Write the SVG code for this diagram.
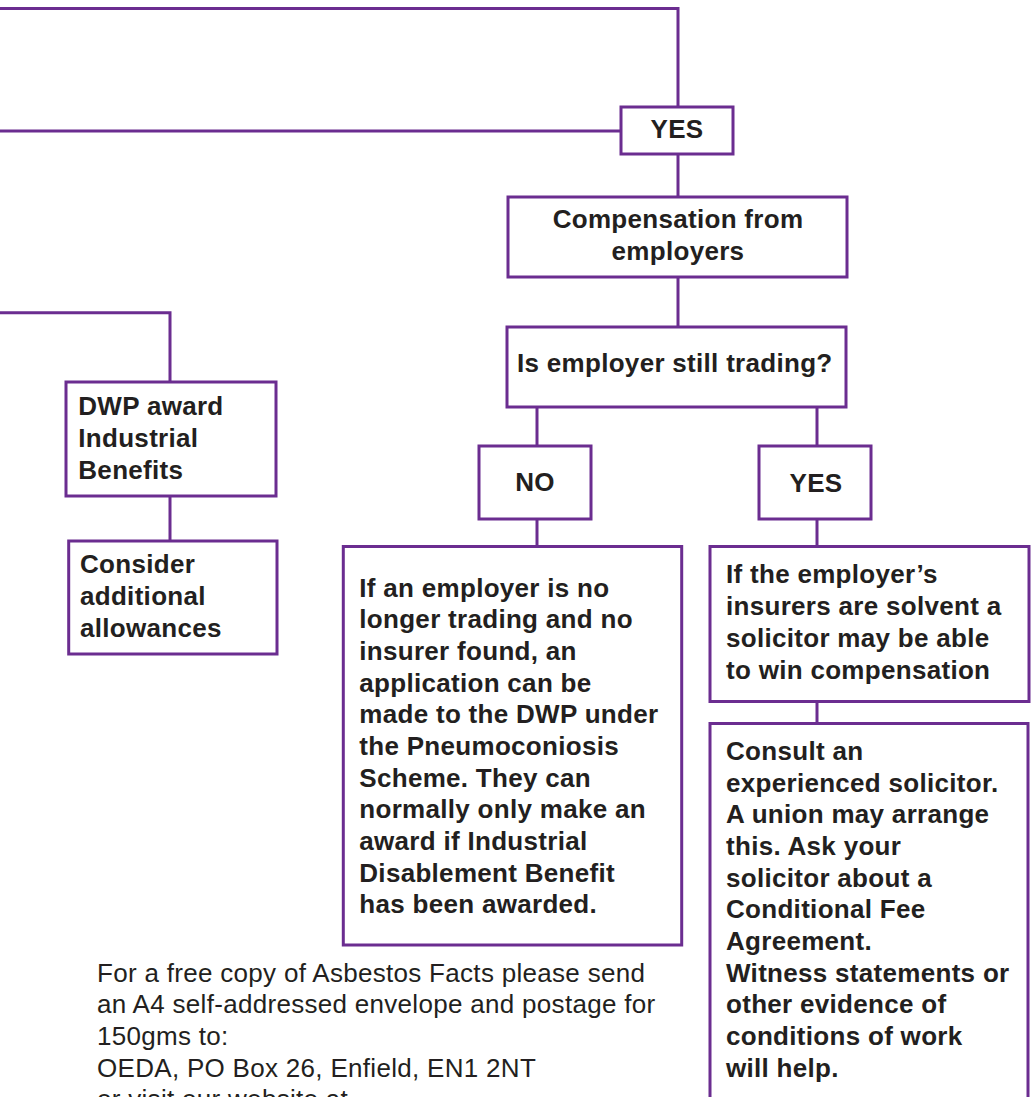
<svg xmlns="http://www.w3.org/2000/svg" width="1033" height="1097" viewBox="0 0 1033 1097">
<style>
.box{fill:#ffffff;stroke:#6b2d90;stroke-width:3}
.ln{fill:none;stroke:#6b2d90;stroke-width:3}
.t{font-family:"Liberation Sans",Arial,Helvetica,sans-serif;font-size:26px;font-weight:bold;fill:#231f20;letter-spacing:0.3px}
.c{text-anchor:middle}
.r{font-weight:normal}
</style>
<rect width="1033" height="1097" fill="#ffffff"/>
<g id="connectors">
<path class="ln" d="M0,8.5 H678 V107"/>
<path class="ln" d="M0,131 H621"/>
<path class="ln" d="M678,154 V197"/>
<path class="ln" d="M678,277 V327"/>
<path class="ln" d="M537,407 V446"/>
<path class="ln" d="M817,407 V446"/>
<path class="ln" d="M537,519 V546.5"/>
<path class="ln" d="M817,519 V546.5"/>
<path class="ln" d="M817,701.5 V723.5"/>
<path class="ln" d="M0,312.7 H170 V382"/>
<path class="ln" d="M170,496 V541"/>
</g>
<g id="yes1">
<rect class="box" x="621" y="107" width="112" height="47"/>
<text class="t c" x="677" y="138">YES</text>
</g>
<g id="compensation">
<rect class="box" x="508" y="197" width="339" height="80"/>
<text class="t c" x="678" y="228">Compensation from</text>
<text class="t c" x="678" y="260">employers</text>
</g>
<g id="trading">
<rect class="box" x="507" y="327" width="339" height="80"/>
<text class="t" x="517" y="372">Is employer still trading?</text>
</g>
<g id="no">
<rect class="box" x="479" y="446" width="112" height="73"/>
<text class="t c" x="535" y="491">NO</text>
</g>
<g id="yes2">
<rect class="box" x="759" y="446" width="112" height="73"/>
<text class="t c" x="816" y="491.5">YES</text>
</g>
<g id="no-result">
<rect class="box" x="343.3" y="546.5" width="338.4" height="398.5"/>
<text class="t" x="359.3" y="596.7">If an employer is no</text>
<text class="t" x="359.3" y="628.3">longer trading and no</text>
<text class="t" x="359.3" y="660">insurer found, an</text>
<text class="t" x="359.3" y="691.7">application can be</text>
<text class="t" x="359.3" y="723.3">made to the DWP under</text>
<text class="t" x="359.3" y="755">the Pneumoconiosis</text>
<text class="t" x="359.3" y="786.7">Scheme. They can</text>
<text class="t" x="359.3" y="818.3">normally only make an</text>
<text class="t" x="359.3" y="850">award if Industrial</text>
<text class="t" x="359.3" y="881.7">Disablement Benefit</text>
<text class="t" x="359.3" y="913.3">has been awarded.</text>
</g>
<g id="yes-result">
<rect class="box" x="710" y="546.5" width="319" height="155"/>
<text class="t" x="726" y="582.7">If the employer’s</text>
<text class="t" x="726" y="615">insurers are solvent a</text>
<text class="t" x="726" y="646.7">solicitor may be able</text>
<text class="t" x="726" y="679.3">to win compensation</text>
</g>
<g id="advice">
<rect class="box" x="710" y="723.5" width="318" height="420"/>
<text class="t" x="726" y="760">Consult an</text>
<text class="t" x="726" y="791.7">experienced solicitor.</text>
<text class="t" x="726" y="823.3">A union may arrange</text>
<text class="t" x="726" y="855">this. Ask your</text>
<text class="t" x="726" y="886.7">solicitor about a</text>
<text class="t" x="726" y="918.3">Conditional Fee</text>
<text class="t" x="726" y="950">Agreement.</text>
<text class="t" x="726" y="981.7">Witness statements or</text>
<text class="t" x="726" y="1013.3">other evidence of</text>
<text class="t" x="726" y="1045">conditions of work</text>
<text class="t" x="726" y="1076.7">will help.</text>
</g>
<g id="dwp">
<rect class="box" x="66" y="382" width="210" height="114"/>
<text class="t" x="78.3" y="415">DWP award</text>
<text class="t" x="78.3" y="447.3">Industrial</text>
<text class="t" x="78.3" y="479.3">Benefits</text>
</g>
<g id="consider">
<rect class="box" x="68.7" y="541" width="208.3" height="113"/>
<text class="t" x="80" y="573.3">Consider</text>
<text class="t" x="80" y="605">additional</text>
<text class="t" x="80" y="636.7">allowances</text>
</g>
<g id="footer">
<text class="t r" x="97" y="981.7">For a free copy of Asbestos Facts please send</text>
<text class="t r" x="97" y="1013.3">an A4 self-addressed envelope and postage for</text>
<text class="t r" x="97" y="1045">150gms to:</text>
<text class="t r" x="97" y="1076.7">OEDA, PO Box 26, Enfield, EN1 2NT</text>
<text class="t r" x="97" y="1108.3">or visit our website at</text>
</g>
</svg>
